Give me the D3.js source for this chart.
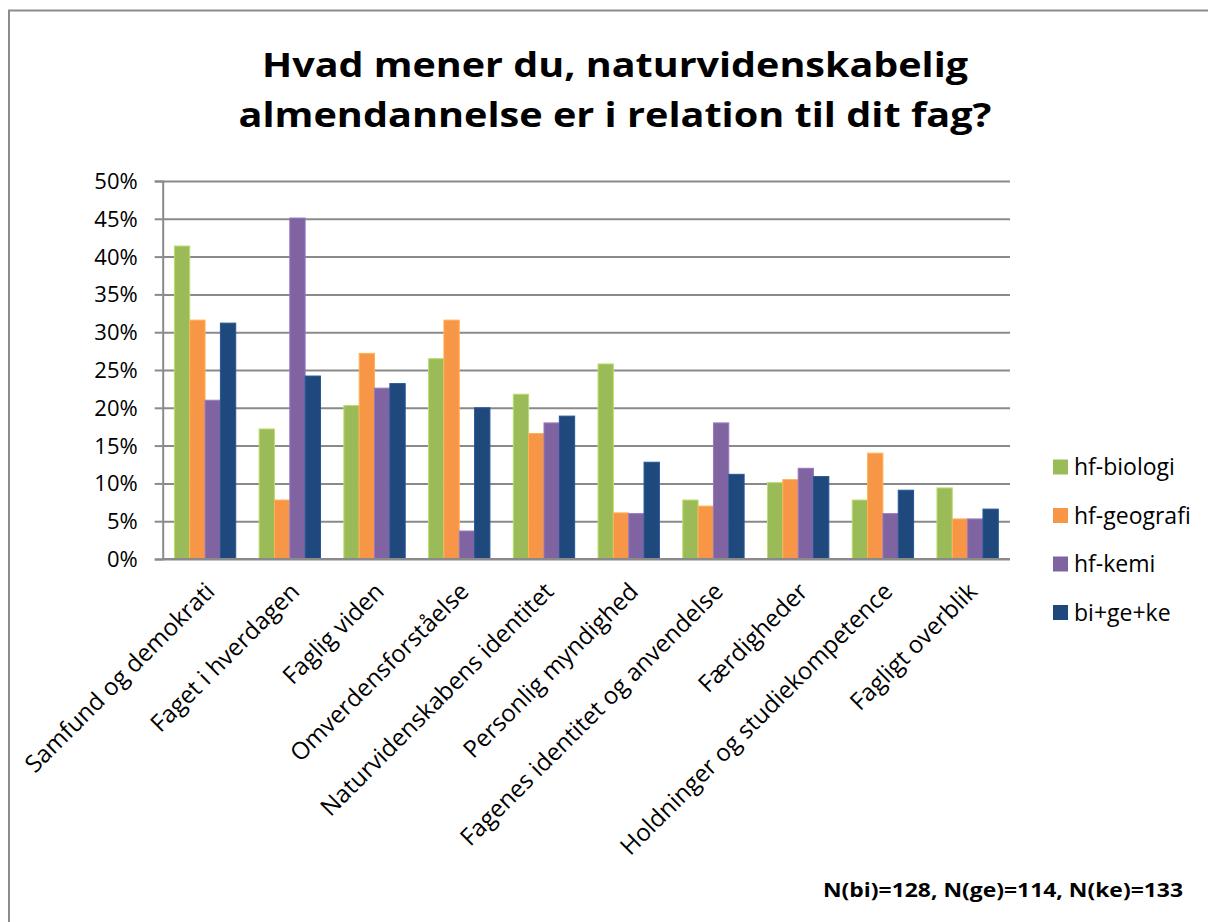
<!DOCTYPE html>
<html>
<head>
<meta charset="utf-8">
<script src="https://cdn.jsdelivr.net/npm/d3@7"></script>
<style>
  body { margin: 0; background: #fff; }
  text { font-family: 'Open Sans', sans-serif; fill: #000; }
</style>
</head>
<body>
<div id="chart"></div>
<script>
// DATA
const categories = [
  'Samfund og demokrati', 'Faget i hverdagen', 'Faglig viden', 'Omverdensforståelse',
  'Naturvidenskabens identitet', 'Personlig myndighed', 'Fagenes identitet og anvendelse',
  'Færdigheder', 'Holdninger og studiekompetence', 'Fagligt overblik'
];
const seriesNames = ['hf-biologi', 'hf-geografi', 'hf-kemi', 'bi+ge+ke'];
const biologi  = [0.414, 0.172, 0.203, 0.265, 0.218, 0.258, 0.078, 0.101, 0.078, 0.094];
const geografi = [0.316, 0.078, 0.272, 0.316, 0.166, 0.061, 0.070, 0.105, 0.140, 0.053];
const kemi     = [0.210, 0.451, 0.226, 0.037, 0.180, 0.060, 0.180, 0.120, 0.060, 0.053];
const samlet   = [0.312, 0.242, 0.232, 0.200, 0.189, 0.128, 0.112, 0.109, 0.091, 0.066];
const yTicks = [0, 0.05, 0.1, 0.15, 0.2, 0.25, 0.3, 0.35, 0.4, 0.45, 0.5];
const titleLines = ['Hvad mener du, naturvidenskabelig', 'almendannelse er i relation til dit fag?'];
const footnote = 'N(bi)=128, N(ge)=114, N(ke)=133';

document.addEventListener('DOMContentLoaded', function(){
  drawChart();
});

function drawChart(){
  const chartParam = {
    width: 1208,
    height: 922,
    plot: { left: 162.7, right: 1010, top: 181, bottom: 559 }
  };
  const colors = ['#9bbb59', '#f79646', '#8064a2', '#1f497d'];
  const values = [biologi, geografi, kemi, samlet];

  const svg = d3.select('#chart')
                .append('svg')
                .attr('width', chartParam.width)
                .attr('height', chartParam.height);

  // chart frame
  svg.append('rect')
     .attr('x', 9).attr('y', 10.5)
     .attr('width', 1260).attr('height', 1000)
     .style('fill', 'none')
     .style('stroke', '#8c8c8c')
     .style('stroke-width', 2);

  // title
  const titleWidths = [706, 753];
  svg.append('g')
     .selectAll('text')
     .data(titleLines).enter()
     .append('text')
       .attr('x', 615)
       .attr('y', (d, i) => 77 + i * 50)
       .attr('text-anchor', 'middle')
       .attr('textLength', (d, i) => titleWidths[i])
       .attr('lengthAdjust', 'spacingAndGlyphs')
       .style('font-size', '34px')
       .style('font-weight', 'bold')
       .text(d => d);

  // scales
  const x0 = d3.scaleBand()
               .domain(categories)
               .range([chartParam.plot.left, chartParam.plot.right])
               .paddingInner(0.276)
               .paddingOuter(0.138);
  const x1 = d3.scaleBand()
               .domain(seriesNames)
               .range([0, x0.bandwidth()]);
  const y = d3.scaleLinear()
              .domain([0, 0.5])
              .range([chartParam.plot.bottom, chartParam.plot.top]);

  // gridlines
  const plotW = chartParam.plot.right - chartParam.plot.left;
  const grid = svg.append('g')
                  .attr('transform', `translate(${chartParam.plot.left},0)`)
                  .call(d3.axisLeft(y).tickValues(yTicks).tickSizeInner(-plotW).tickSizeOuter(0).tickFormat(''));
  grid.select('.domain').remove();
  grid.selectAll('line').style('stroke', '#8a8a8a').style('stroke-width', 2);

  // y axis with labels
  const yAxis = svg.append('g')
                   .attr('transform', `translate(${chartParam.plot.left},0)`)
                   .call(d3.axisLeft(y).tickValues(yTicks).tickSize(8).tickPadding(17)
                           .tickFormat(d3.format('.0%')));
  yAxis.select('.domain').style('stroke', '#8a8a8a').style('stroke-width', 2);
  yAxis.selectAll('line').style('stroke', '#8a8a8a').style('stroke-width', 2);
  yAxis.selectAll('text')
       .style('font-size', '22px')
       .style('font-family', "'Open Sans', sans-serif")
       .attr('dy', '0.34em');

  // bars
  const groups = svg.append('g')
                    .selectAll('g')
                    .data(categories).enter()
                    .append('g')
                    .attr('transform', d => `translate(${x0(d)},0)`);
  groups.selectAll('rect')
        .data((d, ci) => seriesNames.map((s, si) => ({ s: s, si: si, v: values[si][ci] })))
        .enter()
        .append('rect')
          .attr('x', d => x1(d.s))
          .attr('y', d => y(d.v))
          .attr('width', x1.bandwidth())
          .attr('height', d => y(0) - y(d.v))
          .style('fill', d => colors[d.si])
          .style('stroke', d => d3.color(colors[d.si]).brighter(0.5))
          .style('stroke-width', 1);

  // x axis baseline
  svg.append('line')
     .attr('x1', chartParam.plot.left).attr('x2', chartParam.plot.right)
     .attr('y1', y(0)).attr('y2', y(0))
     .style('stroke', '#8a8a8a')
     .style('stroke-width', 2);

  // x labels (rotated)
  svg.append('g')
     .selectAll('text')
     .data(categories).enter()
     .append('text')
       .attr('transform', d => `translate(${x0(d) + x0.bandwidth() / 2 + 11},593) rotate(-45)`)
       .attr('text-anchor', 'end')
       .style('font-size', '24px')
       .text(d => d);

  // legend
  const legend = svg.append('g')
                    .selectAll('g')
                    .data(seriesNames).enter()
                    .append('g')
                    .attr('transform', (d, i) => `translate(1053,${467 + i * 48.5})`);
  legend.append('rect')
        .attr('x', 0).attr('y', -7.5)
        .attr('width', 15).attr('height', 15)
        .style('fill', (d, i) => colors[i]);
  legend.append('text')
        .attr('x', 21)
        .attr('dy', '0.36em')
        .style('font-size', '23px')
        .text(d => d);

  // footnote
  svg.append('text')
     .attr('x', 823)
     .attr('y', 897)
     .attr('textLength', 360)
     .attr('lengthAdjust', 'spacingAndGlyphs')
     .style('font-size', '19px')
     .style('font-weight', 'bold')
     .text(footnote);
}
</script>
</body>
</html>
